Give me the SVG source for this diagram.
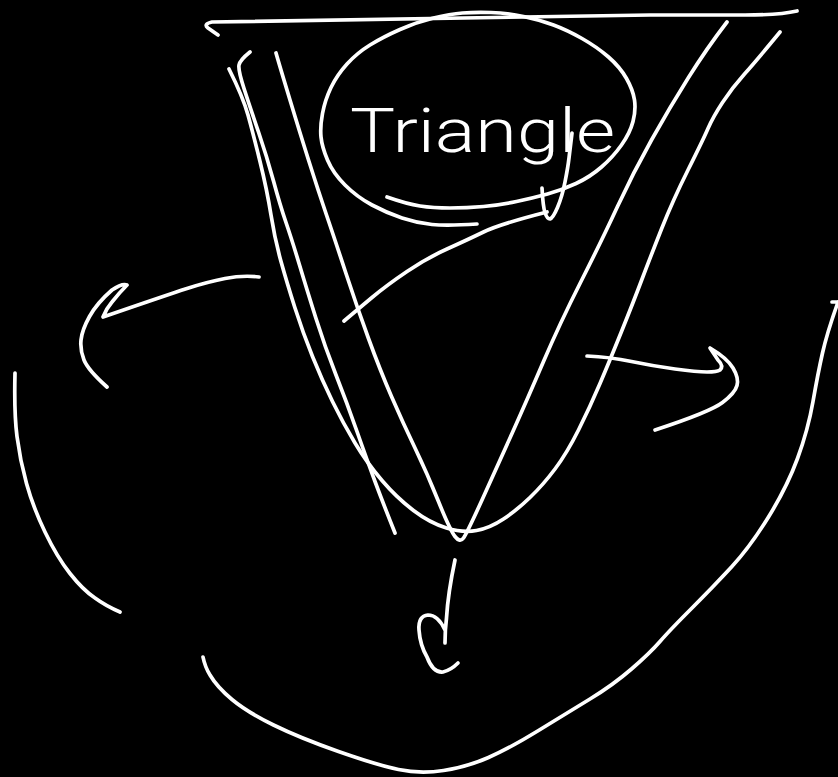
<svg xmlns="http://www.w3.org/2000/svg" width="838" height="777" viewBox="0 0 838 777">
<style>
.s{fill:none;stroke:#fff;stroke-width:3.7;stroke-linecap:round;stroke-linejoin:round}
.t{fill:#fff;font-family:Roboto,"Liberation Sans",sans-serif;font-weight:300;font-size:62px}
</style>
<rect width="838" height="777" fill="#000"/>
<g id="triangle-top" class="s"><path d="M218 35L208 28Q203 24 212 22L650 15L745 15Q780 15 797 11"/></g>
<g id="triangle-sides" class="s">
<path d="M229 69Q243 97 248 115Q253 133 260 161.5Q267 190 271 215Q275 240 281 261.5Q287 283 295 308Q303 333 312.5 356.5Q322 380 332.5 401.5Q343 423 355 443Q367 463 382 480.5Q397 498 413.5 510.5Q430 523 446.5 528Q463 533 476.5 530.5Q490 528 503.5 519Q517 510 530 497.5Q543 485 555 469Q567 453 578.5 430Q590 407 600 383.5Q610 360 621.5 331.5Q633 303 641.5 280.5Q650 258 661.5 229Q673 200 688 170Q703 140 708 128.5Q713 117 722.5 102.5Q732 88 744.5 74Q757 60 780 32"/>
<path d="M250 52Q240 60 239 65Q238 70 244 88.5Q250 107 258.5 132Q267 157 273.5 181Q280 205 286 222.5Q292 240 299.5 265Q307 290 316 318.5Q325 347 336 375Q347 403 357 431.5Q367 460 375 481.5Q383 503 395 533"/>
<path d="M276 53Q280 67 290 100Q300 133 309 161.5Q318 190 326.5 215Q335 240 346 273.5Q357 307 368.5 338.5Q380 370 391.5 396.5Q403 423 415 448Q427 473 438.5 501.5Q450 530 455 536.5Q460 543 463.5 538Q467 533 482 500Q497 467 512 433.5Q527 400 543.5 361.5Q560 323 581 281.5Q602 240 617.5 206.5Q633 173 651.5 140Q670 107 688.5 77.5Q707 48 727 22"/>
</g>
<g id="label">
<text class="t" x="350" y="152" textLength="265" lengthAdjust="spacingAndGlyphs">Triangle</text>
</g>
<g id="label-circle" class="s">
<path d="M477 224Q447 226 432 224.5Q417 223 402 218Q387 213 372 205Q357 197 345 185Q333 173 327.5 160Q322 147 321 137Q320 127 322.5 113.5Q325 100 331 87.5Q337 75 347 64Q357 53 370 45Q383 37 400 29.5Q417 22 433.5 18Q450 14 462.5 13Q475 12 491 12.5Q507 13 523.5 16.5Q540 20 553.5 25Q567 30 582 38.5Q597 47 608.5 57Q620 67 626.5 78.5Q633 90 634.5 100Q636 110 633 121.5Q630 133 621.5 145Q613 157 601.5 167Q590 177 576 183.5Q562 190 547.5 194Q533 198 516.5 201.5Q500 205 483.5 206.5Q467 208 450 208Q433 208 420 206Q407 204 387 197"/>
<path d="M572 133Q570 150 569 158Q568 167 565 182Q562 197 557.5 207.5Q553 218 550 219Q547 219 545 212.5Q543 207 542 188"/>
</g>
<g id="connectors" class="s">
<path d="M344 321Q357 310 372 297.5Q387 285 407 271.5Q427 258 447 249Q467 240 483.5 232Q500 224 547 212"/>
<path d="M259 277Q243 275 225 278.5Q207 282 187 288.5Q167 295 103 317Q106 309 112 302Q120 292 127 285Q122 283 112 290Q97 303 89.5 316.5Q82 330 81 340Q80 350 84 360Q88 370 107 387"/>
<path d="M587 356Q610 357 631.5 361.5Q653 366 675 369Q697 372 707 372Q717 372 720 370Q724 366 718 360L710 348Q727 358 733 368Q739 378 737 385.5Q735 393 722.5 402.5Q710 412 655 430"/>
<path d="M455 560Q448 593 446.5 618Q445 630 445 643M445 630Q438 615 428 615Q418 616 419 630Q420 645 427 657Q433 673 443 672Q451 670 458 663"/>
<path d="M15 373Q14 413 17 436.5Q20 460 26.5 483.5Q33 507 45 532Q57 557 70 573.5Q83 590 95 598Q106 606 120 612"/>
<path d="M832 302L838 302M838 302Q827 333 822.5 353Q818 373 813 401.5Q808 430 797.5 458.5Q787 487 768.5 517Q750 547 731.5 567Q713 587 691.5 608.5Q670 630 660 641.5Q650 653 631.5 669Q613 685 590 699Q567 713 538.5 730.5Q510 748 488.5 757.5Q467 767 443.5 770.5Q420 774 398.5 769.5Q377 765 338.5 751.5Q300 738 273.5 725Q247 712 232 699.5Q217 687 210 675Q205 667 203 657"/>
</g>
</svg>
